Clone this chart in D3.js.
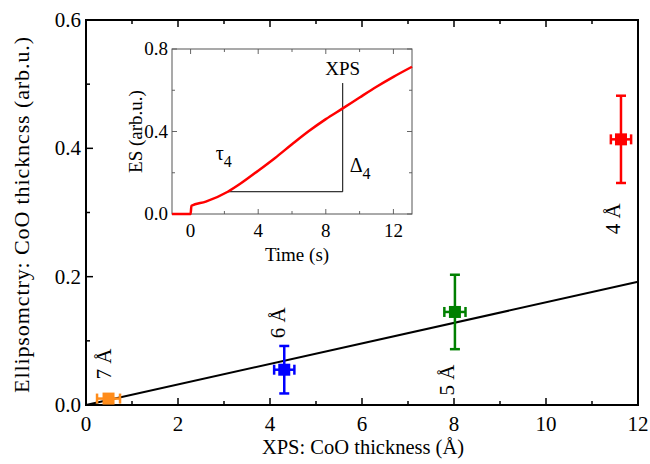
<!DOCTYPE html>
<html>
<head>
<meta charset="utf-8">
<script src="https://cdn.jsdelivr.net/npm/d3@7"></script>
<style>
  body { margin: 0; background: #fff; }
  svg text { font-family: "Liberation Serif", "Times New Roman", serif; }
</style>
</head>
<body>
<svg id="chart" width="650" height="464"></svg>
<script>
// main panel: XPS vs ellipsometry thickness
const xpsThick = [0.49, 4.31, 8.02, 11.63];
const esThick = [0.010, 0.055, 0.145, 0.414];
const xpsErr = [0.25, 0.22, 0.23, 0.22];
const esErr = [0.0, 0.037, 0.058, 0.068];
const pointColors = ["#ff8c1a", "#0000ff", "#008000", "#ff0000"];
const pointLabels = ["7 Å", "6 Å", "5 Å", "4 Å"];
const labelX = [0.39, 4.18, 7.84, 11.46];
const labelY = [0.064, 0.128, 0.039, 0.29];
const fitX = [0, 12];
const fitY = [0, 0.192];
const xTicks = [0, 2, 4, 6, 8, 10, 12];
const yTicks = [0.0, 0.2, 0.4, 0.6];

// inset: ES signal vs time
const timeS = [-1.1, 0, 0.05, 0.9, 2.2, 3, 4, 5, 6, 7, 8, 9, 10, 11, 12, 13.1];
const esSignal = [0, 0, 0.04, 0.06, 0.108, 0.15, 0.21, 0.272, 0.338, 0.402, 0.46, 0.512, 0.565, 0.617, 0.665, 0.714];
const insetXTicks = [0, 4, 8, 12];
const insetYTicks = [0.0, 0.4, 0.8];
const tauT = 2.2, tauES = 0.108, xpsT = 9, xpsTop = 0.635;

const svg = d3.select("#chart");
const fmt1 = d3.format(".1f");

// ---------- main ----------
const m = { left: 86, right: 638, top: 20, bottom: 405 };
const x = d3.scaleLinear().domain([0, 12]).range([m.left, m.right]);
const y = d3.scaleLinear().domain([0, 0.6]).range([m.bottom, m.top]);

const main = svg.append("g");

// ticks (inward), bottom + top mirrored, left only
const xMinor = d3.range(0, 12.01, 1);
const yMinor = d3.range(0, 0.601, 0.1);
main.selectAll(".xt").data(xMinor).enter().append("line")
  .attr("x1", d => x(d)).attr("x2", d => x(d))
  .attr("y1", m.bottom).attr("y2", d => m.bottom - (d % 2 === 0 ? 7 : 4))
  .attr("stroke", "#000").attr("stroke-width", 1.5);
main.selectAll(".xtt").data(xMinor).enter().append("line")
  .attr("x1", d => x(d)).attr("x2", d => x(d))
  .attr("y1", m.top).attr("y2", d => m.top + (d % 2 === 0 ? 7 : 4))
  .attr("stroke", "#000").attr("stroke-width", 1.5);
main.selectAll(".yt").data(yMinor).enter().append("line")
  .attr("x1", m.left).attr("x2", (d, i) => m.left + (i % 2 === 0 ? 7 : 4))
  .attr("y1", d => y(d)).attr("y2", d => y(d))
  .attr("stroke", "#000").attr("stroke-width", 1.5);

main.append("rect")
  .attr("x", m.left).attr("y", m.top)
  .attr("width", m.right - m.left).attr("height", m.bottom - m.top)
  .attr("fill", "none").attr("stroke", "#000").attr("stroke-width", 2);

main.selectAll(".xl").data(xTicks).enter().append("text")
  .attr("x", d => x(d)).attr("y", m.bottom + 26)
  .attr("text-anchor", "middle").attr("font-size", 21)
  .text(d => d);
main.selectAll(".yl").data(yTicks).enter().append("text")
  .attr("x", m.left - 5).attr("y", d => y(d) + 7)
  .attr("text-anchor", "end").attr("font-size", 21)
  .text(d => fmt1(d));

main.append("text")
  .attr("x", (m.left + m.right) / 2 + 1).attr("y", 454)
  .attr("text-anchor", "middle").attr("font-size", 20.5)
  .text("XPS: CoO thickness (Å)");
main.append("text")
  .attr("transform", `translate(29,${(m.top + m.bottom) / 2 + 2}) rotate(-90)`)
  .attr("text-anchor", "middle").attr("font-size", 22).attr("letter-spacing", 0.9)
  .text("Ellipsomctry: CoO thickncss (arb.u.)");

// fit line
main.append("line")
  .attr("x1", x(fitX[0])).attr("y1", y(fitY[0]))
  .attr("x2", x(fitX[1])).attr("y2", y(fitY[1]))
  .attr("stroke", "#000").attr("stroke-width", 2);

// points with error bars
const pts = xpsThick.map((v, i) => ({ x: v, y: esThick[i], ex: xpsErr[i], ey: esErr[i], c: pointColors[i] }));
const pg = main.selectAll(".pt").data(pts).enter().append("g");
pg.append("line")
  .attr("x1", d => x(d.x - d.ex)).attr("x2", d => x(d.x + d.ex))
  .attr("y1", d => y(d.y)).attr("y2", d => y(d.y))
  .attr("stroke", d => d.c).attr("stroke-width", 2.5);
pg.selectAll(".cx").data(d => [[d, -1], [d, 1]]).enter().append("line")
  .attr("x1", ([d, s]) => x(d.x + s * d.ex)).attr("x2", ([d, s]) => x(d.x + s * d.ex))
  .attr("y1", ([d]) => y(d.y) - 5).attr("y2", ([d]) => y(d.y) + 5)
  .attr("stroke", ([d]) => d.c).attr("stroke-width", 2.5);
pg.filter(d => d.ey > 0).append("line")
  .attr("x1", d => x(d.x)).attr("x2", d => x(d.x))
  .attr("y1", d => y(d.y - d.ey)).attr("y2", d => y(d.y + d.ey))
  .attr("stroke", d => d.c).attr("stroke-width", 2.5);
pg.filter(d => d.ey > 0).selectAll(".cy").data(d => [[d, -1], [d, 1]]).enter().append("line")
  .attr("x1", ([d]) => x(d.x) - 5).attr("x2", ([d]) => x(d.x) + 5)
  .attr("y1", ([d, s]) => y(d.y + s * d.ey)).attr("y2", ([d, s]) => y(d.y + s * d.ey))
  .attr("stroke", ([d]) => d.c).attr("stroke-width", 2.5);
pg.append("rect")
  .attr("x", d => x(d.x) - 6).attr("y", d => y(d.y) - 6)
  .attr("width", 12).attr("height", 12)
  .attr("fill", d => d.c);

main.selectAll(".pl").data(pointLabels).enter().append("text")
  .attr("transform", (d, i) => `translate(${x(labelX[i]) + 7},${y(labelY[i])}) rotate(-90)`)
  .attr("text-anchor", "middle").attr("font-size", 21)
  .text(d => d);

// ---------- inset ----------
const ins = { left: 172, right: 412, top: 49, bottom: 214 };
const tx = d3.scaleLinear().domain([-1.1, 13.1]).range([ins.left, ins.right]);
const ty = d3.scaleLinear().domain([0, 0.8]).range([ins.bottom, ins.top]);
const inset = svg.append("g");

inset.append("rect")
  .attr("x", ins.left).attr("y", ins.top)
  .attr("width", ins.right - ins.left).attr("height", ins.bottom - ins.top)
  .attr("fill", "#fff");

const tMinor = d3.range(0, 13, 2);
const esMinor = d3.range(0, 0.801, 0.2);
inset.selectAll(".itb").data(tMinor).enter().append("line")
  .attr("x1", d => tx(d)).attr("x2", d => tx(d))
  .attr("y1", ins.bottom).attr("y2", d => ins.bottom - (d % 4 === 0 ? 5 : 3))
  .attr("stroke", "#666").attr("stroke-width", 1);
inset.selectAll(".itt").data(tMinor).enter().append("line")
  .attr("x1", d => tx(d)).attr("x2", d => tx(d))
  .attr("y1", ins.top).attr("y2", d => ins.top + (d % 4 === 0 ? 5 : 3))
  .attr("stroke", "#666").attr("stroke-width", 1);
inset.selectAll(".iyl").data(esMinor).enter().append("line")
  .attr("x1", ins.left).attr("x2", (d, i) => ins.left + (i % 2 === 0 ? 5 : 3))
  .attr("y1", d => ty(d)).attr("y2", d => ty(d))
  .attr("stroke", "#666").attr("stroke-width", 1);
inset.selectAll(".iyr").data(esMinor).enter().append("line")
  .attr("x1", ins.right).attr("x2", (d, i) => ins.right - (i % 2 === 0 ? 5 : 3))
  .attr("y1", d => ty(d)).attr("y2", d => ty(d))
  .attr("stroke", "#666").attr("stroke-width", 1);

inset.append("rect")
  .attr("x", ins.left).attr("y", ins.top)
  .attr("width", ins.right - ins.left).attr("height", ins.bottom - ins.top)
  .attr("fill", "none").attr("stroke", "#555").attr("stroke-width", 1);

inset.selectAll(".ixl").data(insetXTicks).enter().append("text")
  .attr("x", d => tx(d)).attr("y", ins.bottom + 23)
  .attr("text-anchor", "middle").attr("font-size", 19)
  .text(d => d);
inset.selectAll(".iyt").data(insetYTicks).enter().append("text")
  .attr("x", ins.left - 4).attr("y", d => ty(d) + 6)
  .attr("text-anchor", "end").attr("font-size", 19)
  .text(d => fmt1(d));
inset.append("text")
  .attr("x", (ins.left + ins.right) / 2 + 5).attr("y", ins.bottom + 47)
  .attr("text-anchor", "middle").attr("font-size", 19)
  .text("Time (s)");
inset.append("text")
  .attr("transform", `translate(142,${(ins.top + ins.bottom) / 2}) rotate(-90)`)
  .attr("text-anchor", "middle").attr("font-size", 19)
  .text("ES (arb.u.)");

// τ and Δ construction lines
inset.append("line")
  .attr("x1", tx(tauT)).attr("x2", tx(xpsT))
  .attr("y1", ty(tauES)).attr("y2", ty(tauES))
  .attr("stroke", "#000").attr("stroke-width", 1);
inset.append("line")
  .attr("x1", tx(xpsT)).attr("x2", tx(xpsT))
  .attr("y1", ty(tauES)).attr("y2", ty(xpsTop))
  .attr("stroke", "#000").attr("stroke-width", 1);

const curve = d3.line()
  .x((d, i) => tx(timeS[i]))
  .y(d => ty(d))
  .curve(d3.curveMonotoneX);
inset.append("path")
  .attr("d", curve(esSignal))
  .attr("fill", "none").attr("stroke", "#ff0000").attr("stroke-width", 2.5);

inset.append("text")
  .attr("x", tx(xpsT)).attr("y", ty(xpsTop) - 8)
  .attr("text-anchor", "middle").attr("font-size", 19)
  .text("XPS");
const tau = inset.append("text")
  .attr("x", tx(tauT) - 12).attr("y", ty(tauES) - 32)
  .attr("font-size", 20);
tau.append("tspan").text("τ");
tau.append("tspan").attr("dy", 7).attr("font-size", 16).text("4");
const del = inset.append("text")
  .attr("x", tx(xpsT) + 7).attr("y", ty(tauES) - 20)
  .attr("font-size", 20);
del.append("tspan").text("Δ");
del.append("tspan").attr("dy", 7).attr("font-size", 16).text("4");
</script>
</body>
</html>
